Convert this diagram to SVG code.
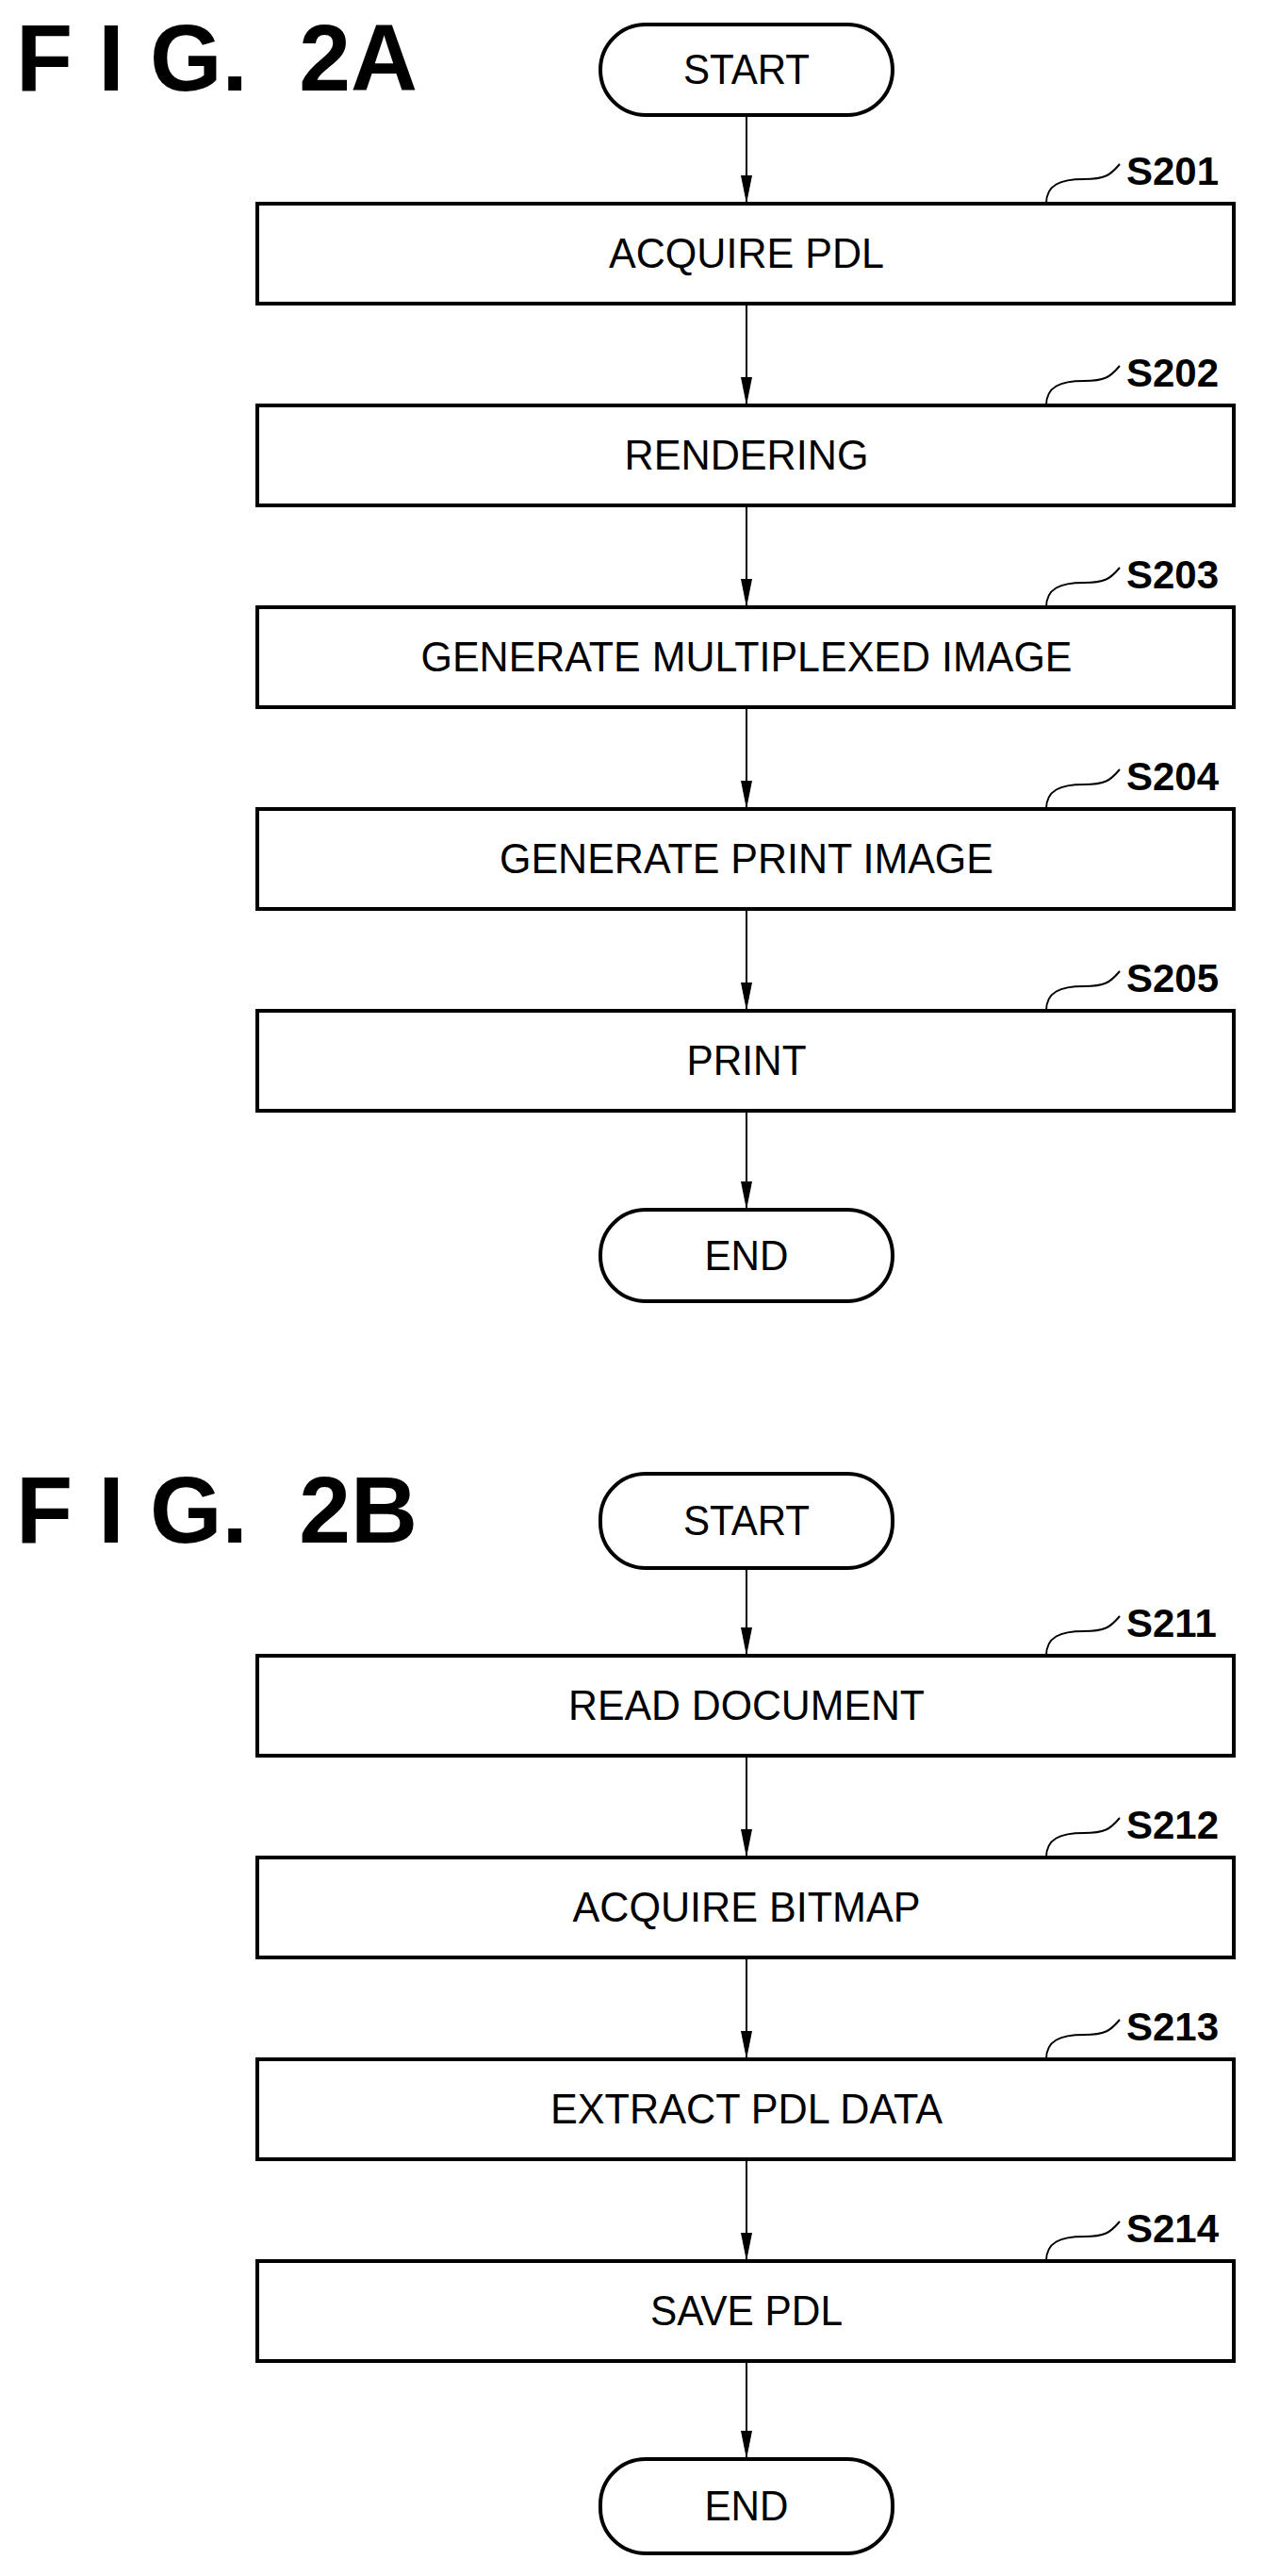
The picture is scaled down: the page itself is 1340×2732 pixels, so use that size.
<svg xmlns="http://www.w3.org/2000/svg" width="1340" height="2732" viewBox="0 0 1340 2732">
<style>
.box{fill:#fff;stroke:#000;stroke-width:4}
.t{font-family:"Liberation Sans",Arial,sans-serif;font-size:44px;text-anchor:middle}
.lb{font-family:"Liberation Sans",Arial,sans-serif;font-size:42px;font-weight:bold}
.fig{font-family:"Liberation Sans",Arial,sans-serif;font-size:100px;font-weight:bold}
.ln{fill:none;stroke:#000;stroke-width:2}
</style>
<defs>
<marker id="a" markerWidth="30" markerHeight="12" refX="30" refY="6" orient="auto" markerUnits="userSpaceOnUse" viewBox="0 0 30 12">
<path d="M0,0 L30,6 L0,12 Z" fill="#000"/>
</marker>
</defs>
<text class="fig" x="17" y="96" xml:space="preserve" textLength="426" lengthAdjust="spacingAndGlyphs">F I G.  2A</text>
<text class="fig" x="17" y="1636" xml:space="preserve" textLength="426" lengthAdjust="spacingAndGlyphs">F I G.  2B</text>
<g id="connectors">
<line class="ln" x1="792" y1="122" x2="792" y2="216" marker-end="url(#a)"/>
<line class="ln" x1="792" y1="322" x2="792" y2="430" marker-end="url(#a)"/>
<line class="ln" x1="792" y1="536" x2="792" y2="644" marker-end="url(#a)"/>
<line class="ln" x1="792" y1="750" x2="792" y2="858" marker-end="url(#a)"/>
<line class="ln" x1="792" y1="964" x2="792" y2="1072" marker-end="url(#a)"/>
<line class="ln" x1="792" y1="1178" x2="792" y2="1283" marker-end="url(#a)"/>
<line class="ln" x1="792" y1="1663" x2="792" y2="1756" marker-end="url(#a)"/>
<line class="ln" x1="792" y1="1862" x2="792" y2="1970" marker-end="url(#a)"/>
<line class="ln" x1="792" y1="2076" x2="792" y2="2184" marker-end="url(#a)"/>
<line class="ln" x1="792" y1="2290" x2="792" y2="2398" marker-end="url(#a)"/>
<line class="ln" x1="792" y1="2504" x2="792" y2="2608" marker-end="url(#a)"/>
</g>
<g id="start1"><rect class="box" x="637" y="26" width="310" height="96" rx="48"/><text class="t" x="792" y="89" textLength="134" lengthAdjust="spacingAndGlyphs">START</text></g>
<g id="s201"><rect class="box" x="273" y="216" width="1036" height="106"/><text class="t" x="792" y="284" textLength="292" lengthAdjust="spacingAndGlyphs">ACQUIRE PDL</text><path class="ln" d="M1110,216 C1110,196 1125,190 1150,190 C1172,190 1178,186 1188,174"/><text class="lb" x="1195" y="196">S201</text></g>
<g id="s202"><rect class="box" x="273" y="430" width="1036" height="106"/><text class="t" x="792" y="498" textLength="259" lengthAdjust="spacingAndGlyphs">RENDERING</text><path class="ln" d="M1110,430 C1110,410 1125,404 1150,404 C1172,404 1178,400 1188,388"/><text class="lb" x="1195" y="410">S202</text></g>
<g id="s203"><rect class="box" x="273" y="644" width="1036" height="106"/><text class="t" x="792" y="712" textLength="691" lengthAdjust="spacingAndGlyphs">GENERATE MULTIPLEXED IMAGE</text><path class="ln" d="M1110,644 C1110,624 1125,618 1150,618 C1172,618 1178,614 1188,602"/><text class="lb" x="1195" y="624">S203</text></g>
<g id="s204"><rect class="box" x="273" y="858" width="1036" height="106"/><text class="t" x="792" y="926" textLength="524" lengthAdjust="spacingAndGlyphs">GENERATE PRINT IMAGE</text><path class="ln" d="M1110,858 C1110,838 1125,832 1150,832 C1172,832 1178,828 1188,816"/><text class="lb" x="1195" y="838">S204</text></g>
<g id="s205"><rect class="box" x="273" y="1072" width="1036" height="106"/><text class="t" x="792" y="1140" textLength="127" lengthAdjust="spacingAndGlyphs">PRINT</text><path class="ln" d="M1110,1072 C1110,1052 1125,1046 1150,1046 C1172,1046 1178,1042 1188,1030"/><text class="lb" x="1195" y="1052">S205</text></g>
<g id="end1"><rect class="box" x="637" y="1283" width="310" height="97" rx="48"/><text class="t" x="792" y="1347" textLength="89" lengthAdjust="spacingAndGlyphs">END</text></g>
<g id="start2"><rect class="box" x="637" y="1563" width="310" height="100" rx="48"/><text class="t" x="792" y="1628" textLength="134" lengthAdjust="spacingAndGlyphs">START</text></g>
<g id="s211"><rect class="box" x="273" y="1756" width="1036" height="106"/><text class="t" x="792" y="1824" textLength="378" lengthAdjust="spacingAndGlyphs">READ DOCUMENT</text><path class="ln" d="M1110,1756 C1110,1736 1125,1730 1150,1730 C1172,1730 1178,1726 1188,1714"/><text class="lb" x="1195" y="1736">S211</text></g>
<g id="s212"><rect class="box" x="273" y="1970" width="1036" height="106"/><text class="t" x="792" y="2038" textLength="369" lengthAdjust="spacingAndGlyphs">ACQUIRE BITMAP</text><path class="ln" d="M1110,1970 C1110,1950 1125,1944 1150,1944 C1172,1944 1178,1940 1188,1928"/><text class="lb" x="1195" y="1950">S212</text></g>
<g id="s213"><rect class="box" x="273" y="2184" width="1036" height="106"/><text class="t" x="792" y="2252" textLength="416" lengthAdjust="spacingAndGlyphs">EXTRACT PDL DATA</text><path class="ln" d="M1110,2184 C1110,2164 1125,2158 1150,2158 C1172,2158 1178,2154 1188,2142"/><text class="lb" x="1195" y="2164">S213</text></g>
<g id="s214"><rect class="box" x="273" y="2398" width="1036" height="106"/><text class="t" x="792" y="2466" textLength="204" lengthAdjust="spacingAndGlyphs">SAVE PDL</text><path class="ln" d="M1110,2398 C1110,2378 1125,2372 1150,2372 C1172,2372 1178,2368 1188,2356"/><text class="lb" x="1195" y="2378">S214</text></g>
<g id="end2"><rect class="box" x="637" y="2608" width="310" height="100" rx="48"/><text class="t" x="792" y="2673" textLength="89" lengthAdjust="spacingAndGlyphs">END</text></g>
</svg>
